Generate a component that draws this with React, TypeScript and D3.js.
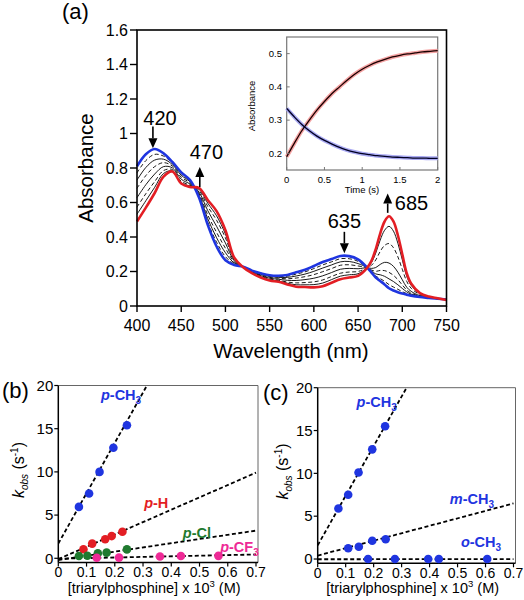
import React from "react";
import * as d3 from "d3";

// ---------- Panel (a): spectra ----------
const wavelengths = [400, 410, 420, 430, 440, 450, 460, 470, 480, 490, 500, 510, 520, 530, 540, 550, 560, 570, 580, 590, 600, 610, 620, 630, 640, 650, 660, 665, 670, 675, 680, 685, 690, 695, 700, 705, 710, 720, 730, 740, 750];
const absInitial = [0.81, 0.88, 0.91, 0.885, 0.835, 0.775, 0.73, 0.63, 0.47, 0.345, 0.265, 0.238, 0.228, 0.205, 0.19, 0.178, 0.175, 0.18, 0.195, 0.21, 0.232, 0.255, 0.272, 0.29, 0.289, 0.27, 0.224, 0.195, 0.165, 0.145, 0.125, 0.103, 0.09, 0.08, 0.072, 0.066, 0.06, 0.052, 0.047, 0.042, 0.038];
const absFinal = [0.49, 0.57, 0.655, 0.75, 0.78, 0.71, 0.69, 0.685, 0.615, 0.55, 0.44, 0.28, 0.225, 0.19, 0.165, 0.148, 0.14, 0.125, 0.112, 0.11, 0.108, 0.115, 0.135, 0.155, 0.165, 0.175, 0.22, 0.26, 0.33, 0.42, 0.49, 0.52, 0.49, 0.41, 0.3, 0.19, 0.13, 0.075, 0.055, 0.045, 0.035];
const absMid1 = [0.772, 0.843, 0.879, 0.869, 0.828, 0.767, 0.725, 0.637, 0.487, 0.37, 0.286, 0.243, 0.228, 0.203, 0.187, 0.174, 0.171, 0.173, 0.185, 0.198, 0.217, 0.238, 0.256, 0.274, 0.274, 0.259, 0.224, 0.198, 0.173, 0.159, 0.143, 0.124, 0.11, 0.097, 0.083, 0.072, 0.064, 0.053, 0.047, 0.042, 0.038];
const absMid2 = [0.73, 0.803, 0.846, 0.851, 0.82, 0.758, 0.72, 0.644, 0.506, 0.396, 0.309, 0.249, 0.227, 0.201, 0.184, 0.171, 0.166, 0.166, 0.174, 0.185, 0.201, 0.22, 0.238, 0.256, 0.258, 0.246, 0.223, 0.203, 0.186, 0.181, 0.172, 0.157, 0.142, 0.123, 0.102, 0.082, 0.069, 0.055, 0.048, 0.042, 0.038];
const absMid3 = [0.682, 0.756, 0.808, 0.831, 0.811, 0.747, 0.714, 0.652, 0.528, 0.427, 0.335, 0.255, 0.227, 0.199, 0.18, 0.166, 0.161, 0.158, 0.162, 0.17, 0.182, 0.199, 0.217, 0.236, 0.239, 0.232, 0.222, 0.209, 0.201, 0.206, 0.205, 0.195, 0.178, 0.153, 0.122, 0.093, 0.075, 0.057, 0.049, 0.043, 0.037];
const absMid4 = [0.628, 0.703, 0.765, 0.808, 0.801, 0.735, 0.707, 0.661, 0.553, 0.462, 0.365, 0.262, 0.226, 0.196, 0.176, 0.161, 0.155, 0.149, 0.148, 0.153, 0.161, 0.175, 0.194, 0.213, 0.218, 0.216, 0.222, 0.218, 0.223, 0.241, 0.253, 0.249, 0.23, 0.196, 0.152, 0.109, 0.085, 0.06, 0.05, 0.043, 0.037];
const absMid5 = [0.573, 0.651, 0.721, 0.785, 0.791, 0.723, 0.7, 0.671, 0.577, 0.497, 0.395, 0.269, 0.226, 0.194, 0.172, 0.156, 0.149, 0.139, 0.134, 0.136, 0.14, 0.151, 0.171, 0.19, 0.197, 0.2, 0.221, 0.235, 0.267, 0.316, 0.351, 0.362, 0.338, 0.285, 0.213, 0.143, 0.103, 0.066, 0.052, 0.044, 0.036];
const absMid6 = [0.532, 0.61, 0.688, 0.768, 0.783, 0.714, 0.695, 0.678, 0.596, 0.523, 0.417, 0.275, 0.225, 0.192, 0.168, 0.152, 0.145, 0.132, 0.123, 0.123, 0.124, 0.133, 0.153, 0.173, 0.181, 0.187, 0.221, 0.251, 0.307, 0.382, 0.439, 0.462, 0.434, 0.364, 0.268, 0.173, 0.12, 0.072, 0.054, 0.045, 0.035];
const wavelengthTicks = [400, 450, 500, 550, 600, 650, 700, 750];
const absorbanceTicks = [0, 0.2, 0.4, 0.6, 0.8, 1, 1.2, 1.4, 1.6];
const annotLabels = ["420", "470", "635", "685"];
const annotWavelength = [418, 471, 634.5, 683.5];

// ---------- Inset ----------
const insetTime = [0, 0.1, 0.2, 0.3, 0.4, 0.5, 0.6, 0.7, 0.8, 0.9, 1, 1.1, 1.2, 1.3, 1.4, 1.5, 1.6, 1.7, 1.8, 1.9, 2];
const insetRise = [0.19, 0.23, 0.268, 0.3, 0.33, 0.356, 0.38, 0.4, 0.42, 0.438, 0.453, 0.465, 0.475, 0.483, 0.49, 0.495, 0.499, 0.502, 0.505, 0.507, 0.509];
const insetDecay = [0.335, 0.31, 0.287, 0.268, 0.252, 0.239, 0.228, 0.218, 0.21, 0.204, 0.199, 0.196, 0.193, 0.191, 0.189, 0.188, 0.187, 0.186, 0.186, 0.185, 0.185];
const insetTimeTicks = [0, 0.5, 1, 1.5, 2];
const insetAbsTicks = [0.2, 0.3, 0.4, 0.5];

// ---------- Panels (b), (c) ----------
const concTicks = [0, 0.1, 0.2, 0.3, 0.4, 0.5, 0.6, 0.7];
const kTicks = [0, 5, 10, 15, 20];

const bPMeConc = [0.073, 0.109, 0.146, 0.195, 0.243];
const bPMeK = [5.95, 7.5, 10.0, 12.8, 15.4];
const bPHConc = [0.089, 0.12, 0.166, 0.189, 0.227];
const bPHK = [1.05, 1.7, 2.2, 2.57, 3.07];
const bPClConc = [0.073, 0.103, 0.14, 0.171, 0.243];
const bPClK = [0.27, 0.3, 0.57, 0.65, 1.03];
const bPCF3Conc = [0.136, 0.215, 0.36, 0.434, 0.567];
const bPCF3K = [0.07, 0.08, 0.2, 0.27, 0.28];
const bSlopes = [58.3, 14.3, 4.86, 0.7];
const bIntercepts = [1.7, -0.1, -0.2, -0.05];

const cPMeConc = [0.074, 0.109, 0.146, 0.195, 0.241];
const cPMeK = [5.9, 7.5, 10.1, 12.8, 15.5];
const cMMeConc = [0.109, 0.147, 0.195, 0.243];
const cMMeK = [1.25, 1.44, 2.14, 2.3];
const cOMeConc = [0.18, 0.276, 0.395, 0.433, 0.606];
const cOMeK = [0, 0, 0, 0, 0];
const cSlopes = [57.9, 8.7, 0.03];
const cIntercepts = [1.6, 0.4, -0.03];

const FONT = "'Liberation Sans', Arial, Helvetica, sans-serif";
const BLUE = "#1f35e0";
const RED = "#e31e24";
const GREEN = "#1f7a2f";
const PINK = "#ee2a96";

function fmt(v: number) {
  return d3.format("~g")(v);
}

function Arrow({ x, y1, y2 }: { x: number; y1: number; y2: number }) {
  const dir = y2 > y1 ? 1 : -1;
  const hl = 10;
  const hw = 4.5;
  return (
    <g>
      <line x1={x} x2={x} y1={y1} y2={y2 - dir * hl} stroke="#000" strokeWidth={1.6} />
      <path d={`M${x},${y2} L${x - hw},${y2 - dir * hl} L${x + hw},${y2 - dir * hl} Z`} fill="#000" />
    </g>
  );
}

function SeriesLabel({ x, y, prefix, body, sub, color }: { x: number; y: number; prefix: string; body: string; sub?: string; color: string }) {
  return (
    <text x={x} y={y} fill={color} fontSize={14.5} fontWeight="bold" fontFamily={FONT}>
      <tspan fontStyle="italic">{prefix}</tspan>
      <tspan>{"-" + body}</tspan>
      {sub ? (
        <tspan fontSize={10} dy={4}>
          {sub}
        </tspan>
      ) : null}
    </text>
  );
}

function KPanel({
  id,
  x0,
  x1,
  yBottom,
  yTop,
  yLabelX,
  series,
  fits,
  labels,
}: {
  id: string;
  x0: number;
  x1: number;
  yBottom: number;
  yTop: number;
  yLabelX: number;
  series: { conc: number[]; k: number[]; color: string }[];
  fits: { slope: number; intercept: number }[];
  labels: { c: number; k: number; prefix: string; body: string; sub?: string; color: string }[];
}) {
  const x = d3.scaleLinear().domain([0, 0.7]).range([x0, x1]);
  const y = d3.scaleLinear().domain([-0.5, 20]).range([yBottom, yTop]);
  const frameRight = x1 + 2;
  return (
    <g fontFamily={FONT}>
      <defs>
        <clipPath id={id}>
          <rect x={x0} y={yTop} width={frameRight - x0} height={yBottom - yTop} />
        </clipPath>
      </defs>
      {/* frame */}
      <line x1={x0} x2={frameRight} y1={yTop} y2={yTop} stroke="#666" strokeWidth={1} />
      <line x1={frameRight} x2={frameRight} y1={yTop} y2={yBottom} stroke="#666" strokeWidth={1} />
      <line x1={x0} x2={x0} y1={yTop} y2={yBottom} stroke="#000" strokeWidth={1.5} />
      <line x1={x0} x2={frameRight} y1={yBottom} y2={yBottom} stroke="#000" strokeWidth={1.5} />
      {kTicks.map((t) => (
        <g key={"k" + t}>
          <line x1={x0 - 4} x2={x0} y1={y(t)} y2={y(t)} stroke="#000" strokeWidth={1.2} />
          <text x={x0 - 5} y={y(t)} dy="0.35em" textAnchor="end" fontSize={15}>
            {fmt(t)}
          </text>
        </g>
      ))}
      {concTicks.map((t) => (
        <g key={"c" + t}>
          <line x1={x(t)} x2={x(t)} y1={yBottom} y2={yBottom + 4} stroke="#000" strokeWidth={1.2} />
          <text x={x(t)} y={yBottom + 14.5} textAnchor="middle" fontSize={14}>
            {fmt(t)}
          </text>
        </g>
      ))}
      <g clipPath={`url(#${id})`}>
        {fits.map((f, i) => (
          <line
            key={"f" + i}
            x1={x(0)}
            x2={x(0.7)}
            y1={y(f.intercept)}
            y2={y(f.intercept + f.slope * 0.7)}
            stroke="#000"
            strokeWidth={1.8}
            strokeDasharray="4,2.5"
          />
        ))}
      </g>
      {series.map((s, i) => (
        <g key={"s" + i}>
          {s.conc.map((c, j) => (
            <circle key={j} cx={x(c)} cy={y(s.k[j])} r={4.3} fill={s.color} />
          ))}
        </g>
      ))}
      {labels.map((l, i) => (
        <SeriesLabel key={"l" + i} x={x(l.c)} y={y(l.k)} prefix={l.prefix} body={l.body} sub={l.sub} color={l.color} />
      ))}
      <text
        transform={`translate(${(x0 + x1) / 2 - 3},${yBottom + 30})`}
        textAnchor="middle"
        fontSize={14.5}
      >
        <tspan>[triarylphosphine] x 10</tspan>
        <tspan fontSize={9.5} dy={-6}>
          3
        </tspan>
        <tspan dy={6}> (M)</tspan>
      </text>
      <text transform={`translate(${yLabelX},${(yTop + yBottom) / 2 - 4}) rotate(-90)`} textAnchor="middle" fontSize={16}>
        <tspan fontStyle="italic">k</tspan>
        <tspan fontStyle="italic" fontSize={10} dy={4}>
          obs
        </tspan>
        <tspan dy={-4}> (s</tspan>
        <tspan fontSize={10} dy={-6}>
          -1
        </tspan>
        <tspan dy={6}>)</tspan>
      </text>
    </g>
  );
}

export default function App() {
  // Panel (a)
  const xA = d3.scaleLinear().domain([400, 750]).range([137, 446.5]);
  const yA = d3.scaleLinear().domain([0, 1.6]).range([306, 30]);
  const spec = d3
    .line<number>()
    .x((_, i) => xA(wavelengths[i]))
    .y((d) => yA(d))
    .curve(d3.curveCatmullRom.alpha(0.5));
  const mids = [absMid1, absMid2, absMid3, absMid4, absMid5, absMid6];

  // Inset
  const xI = d3.scaleLinear().domain([0, 2]).range([286.7, 437.7]);
  const yI = d3.scaleLinear().domain([0.15, 0.55]).range([170, 37]);
  const kin = d3
    .line<number>()
    .x((_, i) => xI(insetTime[i]))
    .y((d) => yI(d))
    .curve(d3.curveMonotoneX);

  const annot = [
    { label: annotLabels[0], wl: annotWavelength[0], a1: 1.04, a2: 0.915, tx: 426, ty: 1.048, anchor: "middle" },
    { label: annotLabels[1], wl: annotWavelength[1], a1: 0.69, a2: 0.806, tx: 478.5, ty: 0.852, anchor: "middle" },
    { label: annotLabels[2], wl: annotWavelength[2], a1: 0.43, a2: 0.306, tx: 634.5, ty: 0.452, anchor: "middle" },
    { label: annotLabels[3], wl: annotWavelength[3], a1: 0.54, a2: 0.652, tx: 691.5, ty: 0.556, anchor: "start" },
  ];

  return (
    <svg
      width={524}
      height={600}
      style={{ position: "absolute", left: 0, top: 0, background: "#fff" }}
      fontFamily={FONT}
    >
      <rect x={0} y={0} width={524} height={600} fill="#fff" />
      {/* ---------- Panel (a) ---------- */}
      <text x={62} y={19} fontSize={22}>
        (a)
      </text>
      {mids.map((m, i) => (
        <path
          key={"m" + i}
          d={spec(m) || ""}
          fill="none"
          stroke="#000"
          strokeWidth={0.9}
          strokeDasharray={i % 2 === 0 ? "4,2.5" : undefined}
        />
      ))}
      <path d={spec(absInitial) || ""} fill="none" stroke={BLUE} strokeWidth={2.6} />
      <path d={spec(absFinal) || ""} fill="none" stroke={RED} strokeWidth={2.6} />
      <rect x={137} y={30} width={309.5} height={276} fill="none" stroke="#000" strokeWidth={1.6} />
      {absorbanceTicks.map((t) => (
        <g key={"a" + t}>
          <line x1={130} x2={137} y1={yA(t)} y2={yA(t)} stroke="#000" strokeWidth={1.4} />
          <text x={128} y={yA(t)} dy="0.35em" textAnchor="end" fontSize={16}>
            {fmt(t)}
          </text>
        </g>
      ))}
      {wavelengthTicks.map((t) => (
        <g key={"w" + t}>
          <line x1={xA(t)} x2={xA(t)} y1={306} y2={312} stroke="#000" strokeWidth={1.4} />
          <text x={xA(t)} y={331} textAnchor="middle" fontSize={16}>
            {t}
          </text>
        </g>
      ))}
      <text x={291} y={358} textAnchor="middle" fontSize={20.5}>
        Wavelength (nm)
      </text>
      <text transform="translate(93,168) rotate(-90)" textAnchor="middle" fontSize={20.5}>
        Absorbance
      </text>
      {annot.map((a, i) => (
        <g key={"an" + i}>
          <Arrow x={xA(a.wl)} y1={yA(a.a1)} y2={yA(a.a2)} />
          <text x={xA(a.tx)} y={yA(a.ty)} textAnchor={a.anchor as any} fontSize={20}>
            {a.label}
          </text>
        </g>
      ))}

      {/* ---------- Inset ---------- */}
      <rect x={286.7} y={37} width={151} height={133} fill="#fff" stroke="#777" strokeWidth={1.2} />
      <path d={kin(insetRise) || ""} fill="none" stroke="#f5a3a3" strokeWidth={4} />
      <path d={kin(insetDecay) || ""} fill="none" stroke="#a9a9f2" strokeWidth={4} />
      <path d={kin(insetRise) || ""} fill="none" stroke="#1a0000" strokeWidth={1.3} />
      <path d={kin(insetDecay) || ""} fill="none" stroke="#000022" strokeWidth={1.3} />
      {insetAbsTicks.map((t) => (
        <g key={"ia" + t}>
          <line x1={286.7} x2={289.7} y1={yI(t)} y2={yI(t)} stroke="#777" strokeWidth={1} />
          <text x={282} y={yI(t)} dy="0.35em" textAnchor="end" fontSize={9.5}>
            {fmt(t)}
          </text>
        </g>
      ))}
      {insetTimeTicks.map((t) => (
        <g key={"it" + t}>
          <line x1={xI(t)} x2={xI(t)} y1={170} y2={167} stroke="#777" strokeWidth={1} />
          <text x={xI(t)} y={183} textAnchor="middle" fontSize={9.5}>
            {fmt(t)}
          </text>
        </g>
      ))}
      <text x={362} y={193} textAnchor="middle" fontSize={9.5}>
        Time (s)
      </text>
      <text transform="translate(255,106) rotate(-90)" textAnchor="middle" fontSize={9.5}>
        Absorbance
      </text>

      {/* ---------- Panel (b) ---------- */}
      <text x={2} y={398} fontSize={22}>
        (b)
      </text>
      <KPanel
        id="clipB"
        x0={58.3}
        x1={256}
        yBottom={562.6}
        yTop={385.5}
        yLabelX={24}
        series={[
          { conc: bPMeConc, k: bPMeK, color: BLUE },
          { conc: bPHConc, k: bPHK, color: RED },
          { conc: bPClConc, k: bPClK, color: GREEN },
          { conc: bPCF3Conc, k: bPCF3K, color: PINK },
        ]}
        fits={bSlopes.map((s, i) => ({ slope: s, intercept: bIntercepts[i] }))}
        labels={[
          { c: 0.151, k: 18.3, prefix: "p", body: "CH", sub: "3", color: BLUE },
          { c: 0.304, k: 5.8, prefix: "p", body: "H", color: RED },
          { c: 0.441, k: 2.3, prefix: "p", body: "Cl", color: GREEN },
          { c: 0.573, k: 0.7, prefix: "p", body: "CF", sub: "3", color: PINK },
        ]}
      />

      {/* ---------- Panel (c) ---------- */}
      <text x={263} y={400} fontSize={22}>
        (c)
      </text>
      <KPanel
        id="clipC"
        x0={317.7}
        x1={513.5}
        yBottom={563.3}
        yTop={387.7}
        yLabelX={288}
        series={[
          { conc: cPMeConc, k: cPMeK, color: BLUE },
          { conc: cMMeConc, k: cMMeK, color: BLUE },
          { conc: cOMeConc, k: cOMeK, color: BLUE },
        ]}
        fits={cSlopes.map((s, i) => ({ slope: s, intercept: cIntercepts[i] }))}
        labels={[
          { c: 0.139, k: 17.8, prefix: "p", body: "CH", sub: "3", color: BLUE },
          { c: 0.472, k: 6.4, prefix: "m", body: "CH", sub: "3", color: BLUE },
          { c: 0.512, k: 1.4, prefix: "o", body: "CH", sub: "3", color: BLUE },
        ]}
      />
    </svg>
  );
}
